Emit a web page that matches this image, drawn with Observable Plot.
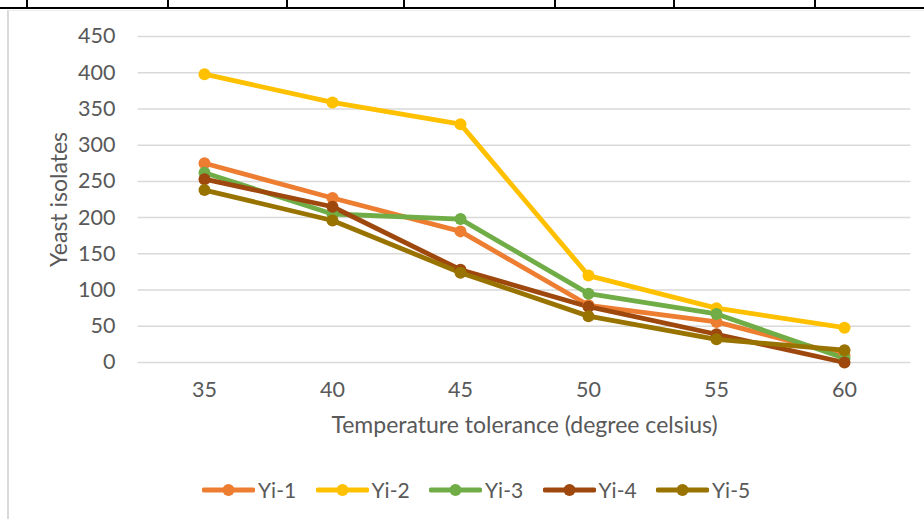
<!DOCTYPE html>
<html><head><meta charset="utf-8">
<script src="https://cdn.jsdelivr.net/npm/d3@7"></script>
<script src="https://cdn.jsdelivr.net/npm/@observablehq/plot@0.6"></script>
<style>
body{margin:0;background:#fff;}
#wrap{position:relative;width:924px;height:519px;overflow:hidden;font-family:Lato,"Open Sans",sans-serif;background:#fff;}
.hline{position:absolute;left:0;top:7px;width:924px;height:2px;background:#000;}
.vline{position:absolute;top:0;width:2px;height:8px;background:#000;}
#frame{position:absolute;left:7px;top:10px;width:930px;height:520px;border-left:2px solid #d9d9d9;border-top:1px solid #ececec;}
#chart{position:absolute;left:0;top:0;}
#legend{position:absolute;left:202px;top:477px;display:flex;align-items:center;font-size:21px;color:#595959;}
.item{display:flex;align-items:center;width:113.5px;}
.item span{margin-left:3px;}
</style></head><body>
<div id="wrap">
  <div class="hline"></div>
  <div id="frame"></div>
  <div id="chart"></div>
  <div id="legend"></div>
</div>
<script>
const temps = [35, 40, 45, 50, 55, 60];
const seriesNames = ["Yi-1", "Yi-2", "Yi-3", "Yi-4", "Yi-5"];
const yi1 = [275, 227, 181, 79, 56, 10];
const yi2 = [398, 359, 329, 120, 75, 48];
const yi3 = [262, 205, 198, 95, 67, 6];
const yi4 = [253, 215, 128, 77, 39, 0];
const yi5 = [238, 196, 124, 64, 32, 17];
const colors = ["#ED7D31", "#FFC000", "#70AD47", "#9E480E", "#997300"];
const yTicks = [0, 50, 100, 150, 200, 250, 300, 350, 400, 450];
const xTitle = "Temperature tolerance (degree celsius)";
const yTitle = "Yeast isolates";
const tableDividers = [27, 168, 287, 404, 555, 674, 815];

const wrap = document.getElementById("wrap");
tableDividers.forEach(x => {
  const d = document.createElement("div");
  d.className = "vline"; d.style.left = (x - 1) + "px";
  wrap.appendChild(d);
});

const allSeries = [yi1, yi2, yi3, yi4, yi5];
const rows = [];
allSeries.forEach((vals, i) => {
  vals.forEach((v, j) => rows.push({series: seriesNames[i], temp: temps[j], value: v}));
});

const txt = "#595959";
const chart = Plot.plot({
  width: 924,
  height: 450,
  marginLeft: 137.6,
  marginRight: 13.6,
  marginTop: 36,
  marginBottom: 88,
  style: {fontFamily: "Lato, 'Open Sans', sans-serif", background: "transparent", color: txt},
  x: {type: "point", domain: temps, padding: 0.5, axis: null},
  y: {domain: [0, 450], axis: null},
  color: {domain: seriesNames, range: colors},
  marks: [
    Plot.ruleY(yTicks, {stroke: "#d9d9d9", strokeWidth: 1.5}),
    Plot.text(yTicks, {y: d => d, frameAnchor: "left", dx: -22.6, textAnchor: "end", fontSize: 21.5, fill: txt}),
    Plot.text(temps, {x: d => d, frameAnchor: "bottom", dy: 28, lineAnchor: "middle", fontSize: 21.5, fill: txt}),
    Plot.text([xTitle], {frameAnchor: "bottom", dy: 63, fontSize: 23, fill: txt, lineAnchor: "middle"}),
    Plot.text([yTitle], {frameAnchor: "left", dx: -78, rotate: -90, textAnchor: "middle", fontSize: 23, fill: txt}),
    Plot.line(rows, {x: "temp", y: "value", z: "series", stroke: "series", strokeWidth: 4.8, strokeLinejoin: "round"}),
    Plot.dot(rows, {x: "temp", y: "value", z: "series", fill: "series", r: 6})
  ]
});
document.getElementById("chart").appendChild(chart);

const legend = document.getElementById("legend");
seriesNames.forEach((name, i) => {
  const item = document.createElement("div");
  item.className = "item";
  item.innerHTML = `<svg width="53" height="14"><line x1="2" y1="7" x2="51" y2="7" stroke="${colors[i]}" stroke-width="4.8" stroke-linecap="round"/><circle cx="26.5" cy="7" r="6" fill="${colors[i]}"/></svg><span>${name}</span>`;
  legend.appendChild(item);
});
</script>
</body></html>
